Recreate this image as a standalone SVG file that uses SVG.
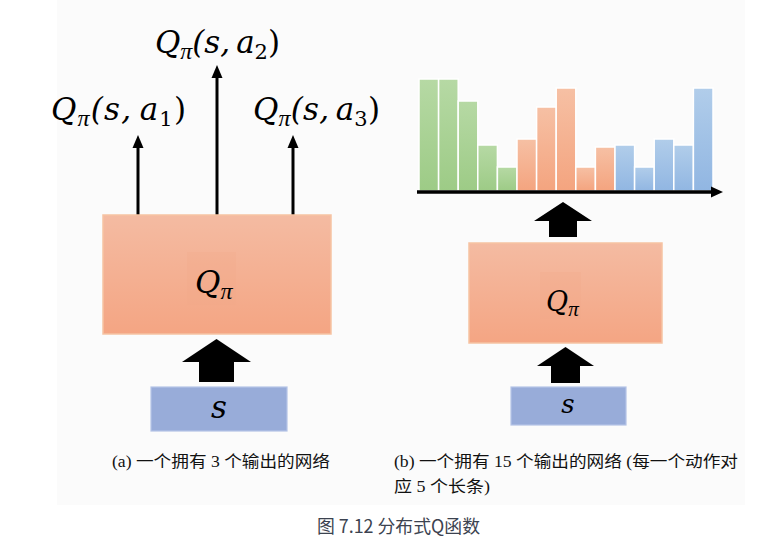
<svg xmlns="http://www.w3.org/2000/svg" width="780" height="554" viewBox="0 0 780 554">
<defs>
<linearGradient id="gOr" x1="0" y1="0" x2="0" y2="1"><stop offset="0" stop-color="#f4bba2"/><stop offset="1" stop-color="#f4a583"/></linearGradient>
<linearGradient id="gG" x1="0" y1="0" x2="0" y2="1"><stop offset="0" stop-color="#b6d9a4"/><stop offset="1" stop-color="#9dcb86"/></linearGradient>
<linearGradient id="gO" x1="0" y1="0" x2="0" y2="1"><stop offset="0" stop-color="#f6c0a4"/><stop offset="1" stop-color="#f4a47f"/></linearGradient>
<linearGradient id="gB" x1="0" y1="0" x2="0" y2="1"><stop offset="0" stop-color="#b1cdea"/><stop offset="1" stop-color="#91b6e2"/></linearGradient>
<style>
.math{font-family:"DejaVu Serif","Liberation Serif",serif;font-style:italic;fill:#000}
.pi{font-family:"Liberation Serif",serif;font-style:italic}
.up{font-style:normal}
.cap{font-family:"Liberation Serif","Noto Sans CJK SC",serif;font-size:16px;fill:#111}
.net{stroke:#f6c3a3;stroke-width:1.5;fill:url(#gOr)}
.inp{fill:#98acd9;stroke:#b4c3e6;stroke-width:1.2}
.thin{stroke:#000;stroke-width:3;fill:none}
.bar{stroke:#fff;stroke-width:1.5}
</style>
</defs>
<rect x="0" y="0" width="780" height="554" fill="#fff"/>
<rect x="57" y="0" width="688" height="505" fill="#fbfbfb"/>

<g id="connectors">
<line class="thin" x1="138" y1="215" x2="138" y2="147"/>
<path d="M138,135 L132.5,148 L143.5,148 Z"/>
<line class="thin" x1="217" y1="215" x2="217" y2="77"/>
<path d="M217,65 L211.5,78 L222.5,78 Z"/>
<line class="thin" x1="293" y1="215" x2="293" y2="147"/>
<path d="M293,135 L287.5,148 L298.5,148 Z"/>
<path id="bigArrowA" d="M216.5,339 L251,362 L234,362 L234,382 L199,382 L199,362 L182,362 Z" fill="#000"/>
<path id="bigArrowB1" d="M565.5,347 L594,366 L580,366 L580,383 L551,383 L551,366 L537,366 Z" fill="#000"/>
<path id="bigArrowB2" d="M563,202 L592,221 L577,221 L577,237 L549,237 L549,221 L534,221 Z" fill="#000"/>
</g>

<g id="labelA1"><text class="math" x="51" y="120" font-size="31" textLength="135" lengthAdjust="spacing">Q<tspan class="pi" font-size="24" dy="6">π</tspan><tspan dy="-6">(s,&#8201;a</tspan><tspan class="up" font-size="21" dy="6">1</tspan><tspan class="up" dy="-6">)</tspan></text></g>
<g id="labelA2"><text class="math" x="155" y="53" font-size="31" textLength="125" lengthAdjust="spacing">Q<tspan class="pi" font-size="24" dy="6">π</tspan><tspan dy="-6">(s,&#8201;a</tspan><tspan class="up" font-size="21" dy="6">2</tspan><tspan class="up" dy="-6">)</tspan></text></g>
<g id="labelA3"><text class="math" x="253" y="120" font-size="31" textLength="127" lengthAdjust="spacing">Q<tspan class="pi" font-size="24" dy="6">π</tspan><tspan dy="-6">(s,&#8201;a</tspan><tspan class="up" font-size="21" dy="6">3</tspan><tspan class="up" dy="-6">)</tspan></text></g>

<g id="netA">
<rect class="net" x="103" y="215" width="228" height="119"/>
<rect x="187" y="252" width="49" height="53" fill="#f0a888" opacity="0.25"/>
<text class="math" x="195" y="293" font-size="31">Q<tspan class="pi" font-size="24" dy="6">π</tspan></text>
</g>
<g id="inputA">
<rect class="inp" x="151" y="387" width="136" height="44"/>
<text class="math" x="219" y="418" font-size="31" text-anchor="middle">s</text>
</g>

<g id="histogram">
<rect class="bar" fill="url(#gG)" x="419" y="79" width="19.6" height="112"/>
<rect class="bar" fill="url(#gG)" x="438.6" y="79" width="19.6" height="112"/>
<rect class="bar" fill="url(#gG)" x="458.2" y="101" width="19.6" height="90"/>
<rect class="bar" fill="url(#gG)" x="477.8" y="145" width="19.6" height="46"/>
<rect class="bar" fill="url(#gG)" x="497.4" y="167" width="19.6" height="24"/>
<rect class="bar" fill="url(#gO)" x="517" y="139" width="19.6" height="52"/>
<rect class="bar" fill="url(#gO)" x="536.6" y="107" width="19.6" height="84"/>
<rect class="bar" fill="url(#gO)" x="556.2" y="88" width="19.6" height="103"/>
<rect class="bar" fill="url(#gO)" x="575.8" y="167" width="19.6" height="24"/>
<rect class="bar" fill="url(#gO)" x="595.4" y="147" width="19.6" height="44"/>
<rect class="bar" fill="url(#gB)" x="615" y="145" width="19.6" height="46"/>
<rect class="bar" fill="url(#gB)" x="634.6" y="167" width="19.6" height="24"/>
<rect class="bar" fill="url(#gB)" x="654.2" y="139" width="19.6" height="52"/>
<rect class="bar" fill="url(#gB)" x="673.8" y="145" width="19.6" height="46"/>
<rect class="bar" fill="url(#gB)" x="693.4" y="88" width="19.6" height="103"/>
<line x1="417" y1="192" x2="713" y2="192" stroke="#000" stroke-width="3.5"/>
<path d="M711,186.5 L723,192 L711,197.5 Z" fill="#000"/>
</g>

<g id="netB">
<rect class="net" x="469" y="243" width="193" height="100"/>
<rect x="540" y="272" width="41" height="47" fill="#f0a888" opacity="0.25"/>
<text class="math" x="546" y="311" font-size="27">Q<tspan class="pi" font-size="21" dy="5">π</tspan></text>
</g>
<g id="inputB">
<rect class="inp" x="511" y="387" width="115" height="38"/>
<text class="math" x="568" y="413" font-size="26" text-anchor="middle">s</text>
</g>

<g id="captions">
<text class="cap" x="112" y="467" textLength="218" lengthAdjust="spacingAndGlyphs">(a) 一个拥有 3 个输出的网络</text>
<text class="cap" x="394" y="467" textLength="344" lengthAdjust="spacingAndGlyphs">(b) 一个拥有 15 个输出的网络 (每一个动作对</text>
<text class="cap" x="394" y="492" textLength="96" lengthAdjust="spacingAndGlyphs">应 5 个长条)</text>
<text x="317" y="533" font-family="'Noto Sans CJK SC','Noto Sans',sans-serif" font-size="18" fill="#3c4350" textLength="163" lengthAdjust="spacingAndGlyphs">图 7.12 分布式Q函数</text>
</g>
</svg>
